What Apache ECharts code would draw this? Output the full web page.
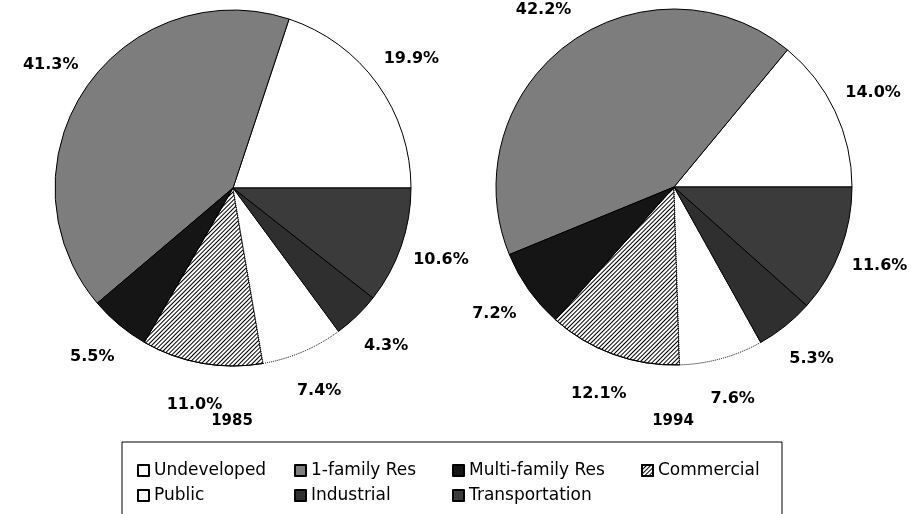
<!DOCTYPE html>
<html>
<head>
<meta charset="utf-8">
<script src="https://cdn.jsdelivr.net/npm/echarts@6/dist/echarts.min.js"></script>
<style>
  html, body { margin: 0; padding: 0; background: #fff; }
  #chart { width: 912px; height: 514px; }
</style>
</head>
<body>
<div id="chart"></div>
<script>
// ---- data ----
const categories = ['Undeveloped', '1-family Res', 'Multi-family Res', 'Commercial', 'Public', 'Industrial', 'Transportation'];
const years = ['1985', '1994'];
const values1985 = [19.9, 41.3, 5.5, 11.0, 7.4, 4.3, 10.6];
const values1994 = [14.0, 42.2, 7.2, 12.1, 7.6, 5.3, 11.6];

// ---- styles ----
const sliceStyles = [
  { color: '#ffffff' },
  { color: '#7d7d7d' },
  { color: '#151515' },
  { color: '#ffffff', decal: { symbol: 'rect', symbolSize: 1, dashArrayX: [[1, 0]], dashArrayY: [1, 2], rotation: -Math.PI / 4, color: '#000000' } },
  { color: '#ffffff', borderType: 'dotted' },
  { color: '#2f2f2f' },
  { color: '#3b3b3b' }
];
const legendTextWidths = [132, 133, 164, 110, 132, 133, 164];
const FONT = 'DejaVu Sans';

const pieCenters = [[233, 188], [674, 187]];
const allValues = [values1985, values1994];

function sliceData(vals) {
  return categories.map((c, i) => ({
    name: c,
    value: vals[i],
    itemStyle: Object.assign({ borderColor: '#000', borderWidth: 1 }, sliceStyles[i])
  }));
}

const series = [];
allValues.forEach((vals, k) => {
  series.push({
    type: 'pie',
    center: pieCenters[k],
    radius: [0, 178],
    startAngle: 0,
    clockwise: false,
    animation: false,
    label: { show: false },
    labelLine: { show: false },
    emphasis: { disabled: true },
    data: sliceData(vals)
  });
  series.push({
    type: 'pie',
    center: pieCenters[k],
    radius: [199, 235],
    startAngle: 0,
    clockwise: false,
    animation: false,
    silent: true,
    emphasis: { disabled: true },
    itemStyle: { color: 'rgba(0,0,0,0)', borderWidth: 0 },
    label: {
      show: true,
      position: 'inside',
      formatter: p => p.value.toFixed(1) + '%',
      fontFamily: FONT,
      fontWeight: 'bold',
      fontSize: 16,
      color: '#000'
    },
    labelLine: { show: false },
    data: categories.map((c, i) => ({ name: c, value: vals[i] }))
  });
});

const option = {
  backgroundColor: '#ffffff',
  animation: false,
  title: years.map((y, k) => ({
    text: y,
    left: pieCenters[k][0] - 1,
    top: 414,
    textAlign: 'center',
    padding: 0,
    textStyle: { fontFamily: FONT, fontWeight: 'bold', fontSize: 15, color: '#000' }
  })),
  legend: {
    left: 122,
    top: 442,
    width: 660,
    orient: 'horizontal',
    itemGap: 8,
    itemWidth: 11,
    itemHeight: 11,
    icon: 'rect',
    padding: [20, 14, 40, 15],
    borderColor: '#000',
    borderWidth: 1,
    selectedMode: false,
    textStyle: { fontFamily: FONT, fontSize: 17, color: '#000', lineHeight: 15 },
    data: categories.map((c, i) => ({ name: c, textStyle: { width: legendTextWidths[i] } }))
  },
  series: series
};

const chart = echarts.init(document.getElementById('chart'), null, { renderer: 'canvas' });
chart.setOption(option);
</script>
</body>
</html>
